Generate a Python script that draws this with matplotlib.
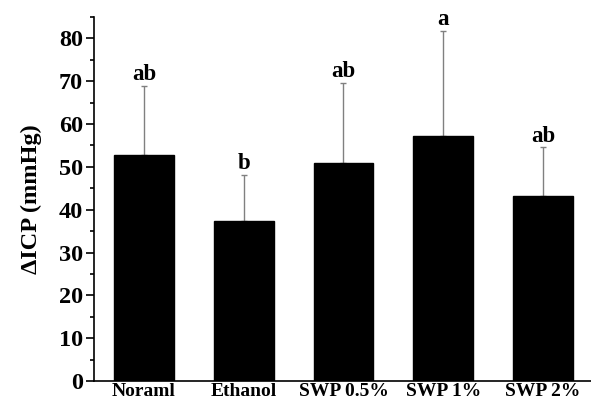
import numpy as np
import matplotlib.pyplot as plt
from matplotlib.ticker import MultipleLocator

groups = ["Noraml", "Ethanol", "SWP 0.5%", "SWP 1%", "SWP 2%"]
means = [52.7, 37.4, 50.8, 57.1, 43.1]
errors = [16.2, 10.8, 18.8, 24.7, 11.5]
letters = ["ab", "b", "ab", "a", "ab"]

plt.rcParams["font.family"] = ["Liberation Serif", "DejaVu Serif"]
plt.rcParams["font.weight"] = "bold"

fig = plt.figure(figsize=(5.91, 4.07), dpi=100)
ax = fig.add_axes([94 / 591, 1 - 381 / 407, 1 - 94 / 591, (381 - 17) / 407])

x = np.arange(len(groups))
ax.bar(x, means, width=0.6, color="black", edgecolor="black", zorder=2)
ax.errorbar(
    x,
    means,
    yerr=[np.zeros(len(errors)), errors],
    fmt="none",
    ecolor="#808080",
    elinewidth=1,
    capsize=2,
    capthick=1,
    zorder=1,
)

for xi, m, e, lab in zip(x, means, errors, letters):
    ax.annotate(
        lab,
        (xi, m + e),
        xytext=(0, 4),
        textcoords="offset points",
        ha="center",
        va="baseline",
        fontsize=16.5,
        weight="bold",
    )

ax.set_xlim(-0.5, 4.48)
ax.set_ylim(0, 85)
ax.yaxis.set_major_locator(MultipleLocator(10))
ax.yaxis.set_minor_locator(MultipleLocator(5))
ax.set_xticks(x)
ax.set_xticklabels(groups, fontsize=14, weight="bold")
ax.tick_params(axis="x", length=0, pad=1.5)
ax.tick_params(axis="y", which="major", length=6, width=1.2, labelsize=17.5, pad=2)
ax.tick_params(axis="y", which="minor", length=3, width=1.2)
for lbl in ax.get_yticklabels():
    lbl.set_fontweight("bold")

ax.spines["top"].set_visible(False)
ax.spines["right"].set_visible(False)
ax.spines["left"].set_linewidth(1.2)
ax.spines["bottom"].set_linewidth(1.2)

ax.set_ylabel("ΔICP (mmHg)", fontsize=17.5, weight="bold", labelpad=12)

fig.savefig("out.png", dpi=100, facecolor="white")
